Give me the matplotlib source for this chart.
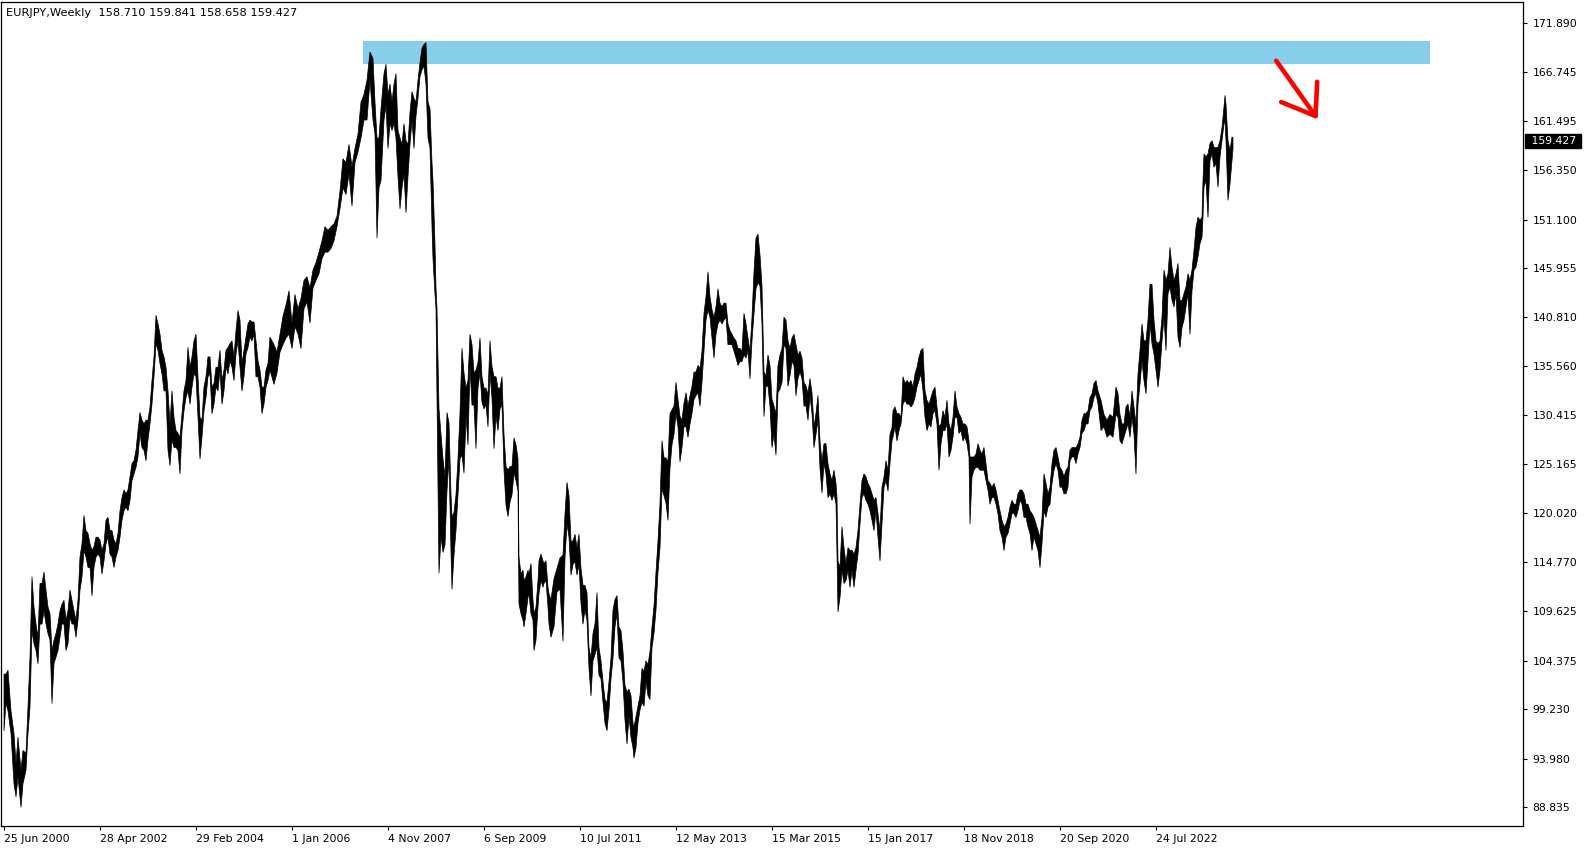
import numpy as np
import matplotlib
matplotlib.use("Agg")
import matplotlib.pyplot as plt
import matplotlib.transforms as mtransforms


# weekly EURJPY, sampled every ~2 weeks: week offset from 25 Jun 2000, high, low
week = [
    0, 2, 4, 7, 10, 12, 14, 17, 19, 22, 24, 26, 28, 30, 32, 34, 36, 38, 40, 42,
    44, 46, 48, 50, 52, 54, 56, 58, 60, 62, 64, 66, 68, 70, 72, 74, 76, 78, 80, 82,
    84, 86, 88, 90, 92, 94, 96, 98, 100, 102, 104, 106, 108, 110, 112, 114, 116, 118, 120, 122,
    124, 126, 128, 130, 132, 134, 136, 138, 140, 142, 144, 146, 148, 150, 152, 154, 156, 158, 160, 162,
    164, 166, 168, 170, 172, 174, 176, 178, 180, 182, 184, 186, 188, 190, 192, 194, 196, 198, 200, 202,
    204, 206, 208, 210, 212, 214, 216, 218, 220, 222, 224, 226, 228, 230, 232, 234, 236, 238, 240, 242,
    244, 246, 248, 250, 252, 254, 256, 258, 260, 262, 264, 266,
    270, 273, 276, 279, 282, 285, 288, 291, 294, 297, 300, 303, 306, 309, 312, 315, 318, 321, 324, 327,
    330, 333, 336, 339, 342, 345, 348, 351, 354, 357, 360, 363, 366, 369, 371, 373, 375, 377, 380, 382,
    384, 386, 388, 390, 392, 394, 396, 398, 400, 402, 404, 406, 408, 410, 412, 414, 416, 418, 420, 422,
    424, 426, 428, 429, 431, 432, 433, 435, 437, 439, 441, 443, 445, 447, 448, 450, 452, 454, 456, 458,
    460, 462, 464, 466, 468, 470, 472, 474, 476, 478, 480, 482, 484, 486, 488, 490, 492, 494, 496, 498,
    500, 502, 504, 506, 508, 510, 512, 514,
    515, 517, 519, 520, 522, 524, 525, 527, 529, 530, 532, 534, 535, 537, 539, 540, 542, 544, 545,
    547, 550, 553, 556, 559, 561, 563, 565, 567, 569, 571, 573, 575, 577, 579, 581, 583, 585, 587, 589,
    591, 593, 595, 597, 599, 601, 603, 605, 607, 609, 611, 613, 615, 617, 619, 621, 623, 625, 627, 629,
    630, 632, 634, 636, 638, 640, 642, 644, 646, 648, 650, 652, 654, 656, 658, 660, 662, 664, 666, 668,
    670, 672, 674, 676, 678, 680, 682, 684, 686, 688, 690, 692, 694, 696, 698, 700, 702, 704, 706, 708,
    710, 712, 714, 716, 718, 720, 722, 724, 726, 728, 730, 732, 734, 736, 738, 740, 742, 744, 746, 748,
    750, 752, 754, 756, 758, 760, 762, 764, 766, 768, 770, 772, 774, 776, 778, 780, 782, 784, 786, 788,
    790, 792, 794, 796, 798, 800, 802, 804, 806, 808, 810, 812, 814, 816, 818, 820, 822, 824, 826, 828,
    830, 832,
    833, 834, 836, 838, 840, 842, 844, 846, 848, 850, 852, 854, 856, 858, 860, 862, 864, 866, 868, 870,
    872, 874, 876, 878, 880, 882, 884, 886, 888,
    889, 891, 893, 895, 897, 899, 901, 903, 905, 907, 909, 911, 913, 915, 917, 919, 921, 923, 925, 927,
    929, 931, 933, 935, 937, 939, 941, 943, 945, 947, 949, 951, 953, 955, 957, 959, 961, 963, 965, 966,
    968, 970, 972, 974, 976, 978, 980, 982, 984, 986, 988, 990, 992, 994, 996, 998, 1000, 1002, 1004, 1006,
    1008, 1010, 1012, 1014, 1016, 1018, 1020, 1022, 1024, 1026, 1028, 1030, 1032, 1034, 1036, 1038, 1040, 1042, 1044, 1046,
    1048, 1050, 1052, 1054, 1056, 1058, 1060, 1062, 1064, 1066, 1068, 1070, 1072, 1074, 1076, 1078, 1080, 1082, 1084, 1086,
    1088, 1090, 1092, 1094,
    1097, 1100, 1103, 1106, 1109, 1112, 1114, 1116, 1118, 1120, 1122, 1124, 1126, 1128, 1130, 1132, 1134, 1136, 1138, 1140,
    1142, 1144, 1146, 1148, 1150, 1152, 1154, 1156, 1158, 1160, 1162, 1164, 1166, 1168, 1170, 1172, 1174, 1176, 1178, 1180,
    1182, 1184, 1186, 1188, 1190, 1192, 1194, 1196, 1198, 1199, 1200, 1202, 1204, 1206, 1208, 1210, 1212, 1214, 1216, 1218,
    1220, 1221, 1222, 1224, 1226, 1228, 1229,
]
high = [
    103.0, 103.0, 103.4, 99.1, 96.7, 93.5, 96.3, 92.8, 94.9, 94.6, 99.5, 104.8, 113.3, 110.1, 108.3, 106.9, 112.6, 112.6, 113.8, 111.9,
    110.1, 109.4, 105.5, 106.6, 107.3, 108.3, 109.7, 110.4, 110.8, 108.7, 109.7, 111.9, 110.8, 109.7, 108.7, 110.8, 115.4, 116.8, 119.8, 118.2,
    117.9, 116.8, 116.1, 116.5, 117.5, 117.5, 117.2, 116.1, 116.8, 119.3, 119.6, 118.2, 118.2, 117.2, 116.8, 117.9, 120.3, 121.7, 122.5, 122.1,
    122.5, 123.9, 125.3, 125.6, 126.7, 128.8, 130.7, 129.9, 129.5, 129.9, 129.9, 131.3, 134.1, 136.6, 141.0, 140.1, 139.0, 137.3, 136.6, 135.5,
    133.0, 129.5, 133.0, 130.2, 128.8, 128.5, 128.1, 130.6, 133.0, 134.1, 137.6, 135.5, 136.6, 138.3, 139.0, 134.5, 130.2, 129.9, 133.4, 134.5,
    136.6, 136.6, 133.4, 133.8, 135.5, 135.5, 137.3, 134.1, 135.2, 137.3, 137.6, 138.0, 138.3, 136.6, 139.4, 141.5, 140.5, 135.9, 137.3, 138.7,
    140.1, 140.5, 140.3, 140.3, 138.3, 136.2, 135.2, 133.4, 133.4, 135.2, 135.9, 138.7,
    137.9, 137.1, 139.0, 140.9, 142.1, 143.6, 140.2, 143.2, 141.7, 142.8, 144.7, 145.1, 143.9, 145.8, 146.6, 147.7, 148.9, 150.4, 150.0, 150.4,
    150.7, 151.5, 154.2, 157.6, 157.2, 159.1, 156.8, 158.7, 160.2, 163.6, 164.4, 165.9, 168.9, 168.2, 163.6, 159.8, 159.8, 162.9, 166.6, 167.6,
    164.4, 165.5, 163.6, 165.5, 166.6, 160.6, 159.8, 159.1, 161.3, 159.5, 159.1, 162.5, 164.7, 164.0, 163.6, 165.9, 167.8, 169.3, 169.7, 169.9,
    163.6, 162.9, 157.2, 155.3, 148.5, 143.9, 141.7, 131.1, 128.4, 125.8, 123.9, 130.7, 129.6, 122.0, 119.7, 120.1, 122.0, 125.8, 130.7, 137.5,
    134.9, 133.3, 134.1, 139.0, 137.9, 134.9, 135.2, 136.0, 138.6, 134.5, 133.3, 133.3, 132.6, 138.3, 135.6, 134.5, 134.5, 133.3, 133.3, 134.5,
    128.4, 125.0, 124.6, 125.0, 125.0, 128.0, 127.3, 125.8,
    115.4, 113.6, 114.0, 112.9, 113.3, 114.0, 113.6, 114.7, 110.8, 109.4, 110.1, 112.9, 115.0, 115.7, 115.0, 114.7, 115.0, 112.2, 111.5,
    110.9, 113.1, 114.2, 115.3, 115.6, 120.0, 123.3, 121.9, 117.1, 117.1, 117.8, 116.4, 117.8, 114.2, 112.4, 112.4, 111.6, 105.8, 104.7, 107.3,
    108.3, 111.6, 105.8, 104.4, 102.2, 100.3, 100.0, 102.2, 104.7, 109.8, 110.9, 111.3, 108.0, 107.6, 105.4, 101.8, 101.1, 101.4, 100.7, 97.8,
    97.4, 98.5, 99.6, 100.7, 103.6, 103.3, 104.4, 104.0, 105.4, 108.0, 110.2, 113.8, 117.1, 121.1, 127.7, 125.9, 125.9, 125.5, 130.6, 131.0,
    131.4, 133.9, 132.1, 130.3, 129.9, 131.7, 132.8, 131.4, 132.5, 133.5, 135.0, 135.0, 135.7, 135.4, 137.2, 141.2, 143.0, 145.6, 143.0, 141.6,
    140.8, 141.9, 143.8, 142.3, 141.9, 142.3, 142.3, 140.1, 139.4, 139.0, 138.6, 138.3, 137.5, 137.5, 137.2, 141.2, 140.1, 138.6, 137.2, 140.8,
    145.6, 149.2, 149.6, 147.4, 144.1, 135.0, 134.6, 136.8, 135.7, 132.1, 131.4, 130.6, 135.7, 136.8, 137.5, 140.8, 140.5, 138.3, 137.5, 138.6,
    139.0, 137.9, 136.8, 137.2, 136.5, 133.9, 133.5, 132.8, 134.3, 132.8, 129.2, 130.6, 132.5, 127.7, 125.5, 127.4, 127.4, 125.3, 124.2, 123.5,
    124.6, 123.2,
    121.7, 115.0, 114.3, 118.6, 116.4, 114.7, 116.4, 116.1, 116.1, 115.7, 116.4, 118.2, 121.0, 123.5, 124.2, 123.9, 123.2, 122.8, 122.1, 121.4,
    121.7, 120.0, 118.2, 122.8, 123.9, 125.6, 124.6, 128.4, 129.1,
    130.9, 131.3, 130.6, 130.6, 130.2, 134.5, 133.8, 134.1, 133.8, 134.1, 133.4, 134.8, 135.5, 136.6, 137.3, 137.5, 133.0, 132.0, 131.6, 132.3,
    133.0, 133.4, 131.3, 129.2, 129.5, 130.9, 130.2, 132.0, 129.5, 128.8, 130.2, 133.0, 131.3, 130.6, 130.2, 129.5, 129.5, 129.2, 127.7, 126.0,
    126.0, 126.0, 126.3, 127.4, 126.7, 126.3, 127.0, 125.3, 123.5, 123.2, 122.8, 123.2, 122.5, 121.4, 120.3, 119.3, 118.6, 118.9, 119.6, 120.7,
    121.4, 121.0, 121.0, 122.1, 122.5, 122.5, 122.1, 121.0, 121.0, 120.3, 120.0, 119.6, 118.9, 118.2, 117.5, 119.6, 124.2, 123.2, 122.1, 122.8,
    125.3, 126.7, 127.0, 126.0, 124.9, 124.6, 123.9, 124.6, 124.9, 126.7, 127.0, 127.0, 127.0, 127.4, 128.1, 129.9, 130.6, 130.6, 130.9, 132.3,
    132.7, 133.8, 134.1, 133.0,
    132.0, 130.5, 129.9, 130.5, 130.2, 133.4, 132.7, 130.5, 129.5, 129.5, 131.3, 131.6, 130.2, 133.0, 131.3, 129.5, 134.8, 137.3, 140.1, 138.3,
    138.3, 140.5, 144.3, 144.3, 140.5, 138.3, 138.0, 138.3, 140.8, 145.8, 144.7, 145.4, 148.2, 146.1, 144.7, 145.4, 146.5, 142.6, 142.6, 143.3,
    144.0, 145.4, 144.7, 145.8, 147.9, 150.3, 151.4, 151.1, 151.4, 155.3, 158.1, 157.8, 158.1, 159.2, 159.5, 158.8, 158.8, 158.8, 159.5, 160.9,
    163.1, 164.3, 163.4, 159.5, 158.5, 159.9, 159.841,
]
low = [
    97.0, 99.9, 99.1, 96.7, 91.4, 90.0, 92.1, 88.9, 91.4, 92.8, 96.7, 99.5, 107.6, 106.2, 105.5, 104.1, 108.3, 108.3, 109.7, 108.3,
    107.3, 106.6, 99.9, 104.1, 104.8, 105.5, 106.9, 108.3, 108.3, 105.5, 106.2, 109.0, 108.3, 108.3, 106.9, 108.7, 111.9, 113.3, 116.1, 115.4,
    114.3, 114.3, 111.3, 114.3, 115.4, 115.7, 115.4, 113.6, 115.0, 116.8, 117.5, 115.7, 115.4, 114.3, 115.4, 116.1, 117.5, 119.3, 120.3, 120.7,
    120.3, 121.4, 123.5, 124.2, 124.9, 126.0, 128.5, 127.0, 126.7, 125.6, 127.8, 129.5, 131.6, 134.5, 138.0, 137.3, 135.9, 134.8, 133.0, 133.0,
    126.7, 125.1, 127.8, 127.0, 127.0, 126.7, 124.2, 128.8, 130.9, 132.3, 133.0, 131.6, 133.4, 134.8, 134.5, 130.2, 125.8, 128.1, 130.9, 132.3,
    134.5, 134.8, 130.6, 131.6, 133.4, 133.0, 135.2, 131.6, 133.0, 135.5, 134.8, 136.2, 135.5, 134.1, 136.9, 138.3, 135.5, 133.0, 134.5, 136.9,
    137.6, 138.7, 138.3, 139.0, 134.5, 134.5, 133.4, 130.6, 131.6, 133.4, 134.1, 135.2,
    133.7, 134.9, 137.1, 137.9, 138.6, 139.0, 137.5, 139.8, 139.0, 137.5, 141.7, 142.4, 140.2, 143.9, 144.7, 145.4, 147.0, 147.7, 147.7, 148.1,
    148.9, 150.4, 152.3, 154.5, 153.8, 156.0, 152.6, 157.2, 158.3, 159.8, 161.7, 161.7, 165.9, 161.7, 160.2, 149.2, 154.5, 155.3, 161.7, 163.2,
    158.7, 161.3, 160.6, 161.3, 159.8, 155.7, 152.3, 154.5, 156.0, 151.9, 155.7, 159.1, 161.7, 158.7, 162.1, 164.0, 166.3, 167.0, 167.4, 165.5,
    159.8, 158.7, 150.4, 147.0, 143.2, 141.7, 132.2, 113.7, 117.5, 115.9, 116.7, 122.4, 125.8, 115.9, 112.0, 115.6, 118.2, 122.0, 125.8, 126.2,
    124.3, 130.3, 127.3, 135.6, 131.5, 131.5, 126.9, 133.3, 134.9, 131.8, 131.1, 131.5, 129.2, 134.9, 132.2, 126.9, 130.3, 128.8, 131.1, 131.5,
    124.6, 120.9, 119.7, 121.2, 122.0, 124.3, 123.5, 122.4,
    110.4, 109.4, 108.7, 108.0, 109.4, 111.1, 111.5, 109.4, 108.7, 105.5, 106.6, 110.1, 111.5, 112.9, 112.2, 112.6, 112.9, 110.1, 108.3,
    106.9, 108.0, 111.7, 112.0, 106.5, 115.3, 118.9, 117.5, 113.5, 114.6, 114.9, 113.5, 114.6, 110.5, 108.3, 109.8, 108.7, 103.6, 100.7, 104.4,
    105.1, 105.8, 102.9, 102.5, 100.0, 97.8, 97.0, 99.2, 102.5, 104.7, 108.0, 109.4, 104.7, 104.4, 102.2, 98.1, 95.6, 98.5, 96.3, 95.2,
    94.1, 95.2, 97.8, 99.2, 100.0, 99.6, 102.2, 100.7, 100.3, 105.8, 107.3, 109.8, 113.8, 116.4, 122.6, 121.9, 121.1, 119.3, 124.8, 127.3,
    128.4, 130.6, 129.2, 125.5, 127.0, 129.2, 129.2, 128.1, 129.5, 130.6, 132.1, 132.5, 132.8, 131.4, 133.9, 137.2, 140.5, 141.6, 140.8, 138.6,
    136.5, 139.0, 140.1, 140.5, 140.1, 140.5, 140.8, 137.9, 137.9, 137.9, 137.2, 136.5, 135.7, 136.1, 136.1, 136.8, 136.5, 137.2, 134.3, 138.3,
    141.2, 143.8, 144.5, 144.1, 140.1, 130.3, 133.5, 133.5, 131.4, 127.0, 128.4, 126.2, 132.8, 133.2, 133.9, 137.9, 137.5, 133.5, 134.6, 136.1,
    135.7, 132.5, 134.3, 135.0, 134.3, 131.4, 131.4, 129.9, 132.5, 130.6, 127.0, 128.4, 129.9, 124.8, 122.2, 125.3, 124.2, 121.7, 122.1, 121.4,
    122.1, 121.0,
    115.7, 109.6, 111.1, 114.0, 112.6, 112.9, 114.0, 112.2, 114.0, 112.2, 114.0, 115.7, 118.9, 121.7, 122.1, 121.4, 121.0, 120.3, 119.3, 118.2,
    120.3, 117.5, 115.0, 118.9, 122.8, 123.5, 122.4, 125.3, 127.7,
    128.1, 129.2, 127.7, 128.8, 129.5, 131.6, 132.0, 131.6, 131.6, 131.3, 131.6, 132.3, 133.4, 134.1, 134.8, 133.0, 130.2, 128.8, 129.5, 129.2,
    130.6, 130.9, 129.5, 124.6, 127.4, 128.8, 128.8, 129.5, 126.0, 126.7, 128.1, 130.2, 130.2, 128.5, 128.8, 127.7, 128.1, 127.4, 126.0, 118.9,
    123.9, 124.6, 124.9, 124.9, 124.6, 124.6, 124.6, 123.5, 122.5, 121.0, 121.7, 121.7, 121.0, 120.0, 118.2, 117.5, 116.1, 117.5, 117.9, 118.9,
    120.0, 120.0, 119.6, 120.3, 121.4, 121.0, 119.6, 119.6, 118.6, 117.9, 116.1, 117.5, 116.8, 116.1, 114.3, 116.8, 120.3, 119.6, 120.7, 121.0,
    123.2, 124.6, 125.3, 124.6, 122.8, 122.8, 122.1, 122.1, 122.8, 125.6, 126.0, 126.0, 125.3, 126.3, 127.0, 128.5, 128.8, 129.5, 129.5, 130.9,
    131.3, 132.3, 132.7, 131.6,
    128.8, 129.2, 128.1, 128.4, 128.1, 130.5, 130.2, 127.7, 127.4, 128.1, 128.8, 129.5, 128.1, 130.2, 128.4, 124.2, 131.6, 133.7, 136.2, 134.1,
    132.7, 136.2, 140.1, 138.0, 136.9, 135.2, 133.4, 135.2, 138.3, 140.8, 137.3, 143.3, 144.0, 142.6, 141.9, 143.3, 138.7, 137.6, 139.7, 140.5,
    141.9, 143.3, 139.0, 143.6, 145.8, 146.1, 147.2, 148.6, 149.3, 151.4, 154.6, 155.3, 151.4, 157.4, 158.1, 156.7, 157.1, 154.6, 157.8, 159.5,
    161.3, 161.6, 159.5, 153.2, 154.9, 157.4, 158.658,
]

# right axis labels as printed by the terminal
ytick_values = [171.890, 166.745, 161.495, 156.350, 151.100, 145.955, 140.810, 135.560,
                130.415, 125.165, 120.020, 114.770, 109.625, 104.375, 99.230, 93.980, 88.835]
xtick_dates = ["2000-06-25", "2002-04-28", "2004-02-29", "2006-01-01", "2007-11-04",
               "2009-09-06", "2011-07-10", "2013-05-12", "2015-03-15", "2017-01-15",
               "2018-11-18", "2020-09-20", "2022-07-24"]
xtick_labels = ["25 Jun 2000", "28 Apr 2002", "29 Feb 2004", "1 Jan 2006", "4 Nov 2007",
                "6 Sep 2009", "10 Jul 2011", "12 May 2013", "15 Mar 2015", "15 Jan 2017",
                "18 Nov 2018", "20 Sep 2020", "24 Jul 2022"]

last_bar = (158.710, 159.841, 158.658, 159.427)

# resistance zone and hand drawn arrow (week, price)
zone_weeks = (359, 1426)
zone_prices = (167.61, 170.01)
arrow_shaft = ([1272.7, 1312.0], [167.93, 162.07])
arrow_left = ([1277.7, 1312.0], [163.55, 162.07])
arrow_right = ([1313.7, 1312.0], [165.70, 162.07])

FONT = "DejaVu Sans"
FS = 7.8

start = np.datetime64("2000-06-25")
xtick_pos = [(np.datetime64(d) - start).astype(int) / 7 for d in xtick_dates]

W, H = 1587, 850
fig = plt.figure(figsize=(W / 100, H / 100), dpi=100)
fig.patch.set_facecolor("white")
ax = fig.add_axes([1 / W, 1 - 826 / H, 1522 / W, 824 / H])

ax.set_xlim(-2.5, 1519.5)
ax.set_ylim(86.85, 174.15)

ax.fill_between([zone_weeks[0], zone_weeks[1]], zone_prices[0], zone_prices[1],
                color="#87ceeb", lw=0, zorder=1)

ax.fill_between(week, low, high, color="black", lw=0.5, zorder=3)

for xs, ys in (arrow_shaft, arrow_left, arrow_right):
    ax.plot(xs, ys, color="red", lw=3.3, solid_capstyle="round", zorder=4)

for s in ax.spines.values():
    s.set_linewidth(0.9)
    s.set_color("black")

ax.yaxis.tick_right()
ax.set_yticks(ytick_values)
ax.set_yticklabels([f"{v:.3f}" for v in ytick_values], fontsize=FS, family=FONT)
ax.tick_params(axis="y", direction="out", length=3, width=0.8, pad=4, colors="black")

ax.set_xticks(xtick_pos)
ax.set_xticklabels(xtick_labels, fontsize=FS, family=FONT)
for lab in ax.get_xticklabels():
    lab.set_ha("left")
ax.tick_params(axis="x", direction="out", length=3, width=0.8, pad=3, colors="black")

# current price box on the right scale
trans = mtransforms.blended_transform_factory(ax.transAxes, ax.transData)
ax.text(1.003, last_bar[3], f" {last_bar[3]:.3f} ", transform=trans, ha="left", va="center",
        color="white", fontsize=FS, family=FONT,
        bbox=dict(boxstyle="square,pad=0.2", fc="black", ec="black"))

fig.text(6 / W, 1 - 13 / H,
         "EURJPY,Weekly  " + " ".join(f"{v:.3f}" for v in last_bar),
         fontsize=8.2, family=FONT, va="center", ha="left", color="black")

fig.savefig("out.png", dpi=100, facecolor="white")
